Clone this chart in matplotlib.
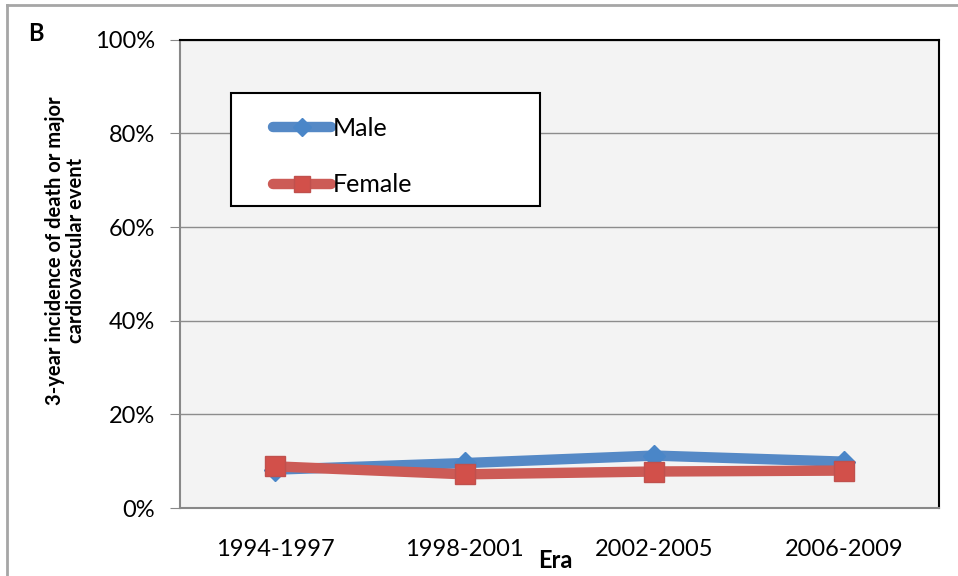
import matplotlib

matplotlib.use("Agg")
import matplotlib.pyplot as plt
from matplotlib.patches import Rectangle
from matplotlib.ticker import PercentFormatter

plt.rcParams["font.family"] = ["Lato", "DejaVu Sans"]

eras = ["1994-1997", "1998-2001", "2002-2005", "2006-2009"]
male = [8.2, 9.6, 11.2, 9.9]
female = [8.9, 7.2, 7.8, 8.0]
y_ticks = [0, 20, 40, 60, 80, 100]

blue = "#5589c6"
red = "#cc5b56"

fig = plt.figure(figsize=(9.58, 5.76), dpi=100)
ax = fig.add_axes([0.188, 0.118, 0.792, 0.813])
ax.set_facecolor("#f3f3f3")

x = range(len(eras))
ax.plot(x, male, color=blue, lw=7.5, marker="D", ms=11,
        mfc="#4a86c8", mec="#4a86c8", solid_capstyle="round", label="Male", zorder=3)
ax.plot(x, female, color=red, lw=7.5, marker="s", ms=14,
        mfc="#d2504a", mec="#c0504d", solid_capstyle="round", label="Female", zorder=4)

ax.set_xlim(-0.5, len(eras) - 0.5)
ax.set_ylim(0, 100)
ax.set_yticks(y_ticks)
ax.yaxis.set_major_formatter(PercentFormatter(decimals=0))
ax.set_xticks(list(x))
ax.set_xticklabels(eras)
ax.tick_params(axis="x", length=0, pad=22, labelsize=17)
ax.tick_params(axis="y", length=7, color="#888888", labelsize=17, pad=11)
ax.grid(axis="y", color="#8c8c8c", lw=1)
ax.set_axisbelow(True)

for side in ["top", "right"]:
    ax.spines[side].set_color("black")
    ax.spines[side].set_linewidth(1.5)
for side in ["left", "bottom"]:
    ax.spines[side].set_color("#888888")
    ax.spines[side].set_linewidth(1.5)

ax.set_ylabel("3-year incidence of death or major\ncardiovascular event",
              fontsize=14.5, fontweight="bold", linespacing=1.05)
ax.yaxis.set_label_coords(-0.124, 0.55)
ax.set_xlabel("Era", fontsize=17, fontweight="bold")
ax.xaxis.set_label_coords(0.495, -0.088)

# legend box drawn separately so it can be wider than its entries
ax.add_patch(Rectangle((0.067, 0.645), 0.407, 0.242, transform=ax.transAxes,
                       facecolor="white", edgecolor="black", lw=1.5, zorder=5))
leg = ax.legend(loc="upper left", bbox_to_anchor=(0.122, 0.836), fontsize=18,
                frameon=False, borderpad=0, labelspacing=1.35,
                handlelength=2.35, handletextpad=0.05, borderaxespad=0,
                markerscale=0.85)
leg.set_zorder(6)

fig.text(0.029, 0.962, "B", fontsize=17, fontweight="bold", va="top")

# panel border on the left and top edges
fig.add_artist(plt.Line2D([0.0075, 0.0075], [0, 0.991], color="#a6a6a6", lw=2))
fig.add_artist(plt.Line2D([0.0075, 1.0], [0.991, 0.991], color="#a6a6a6", lw=2))

fig.savefig("out.png", dpi=100)
